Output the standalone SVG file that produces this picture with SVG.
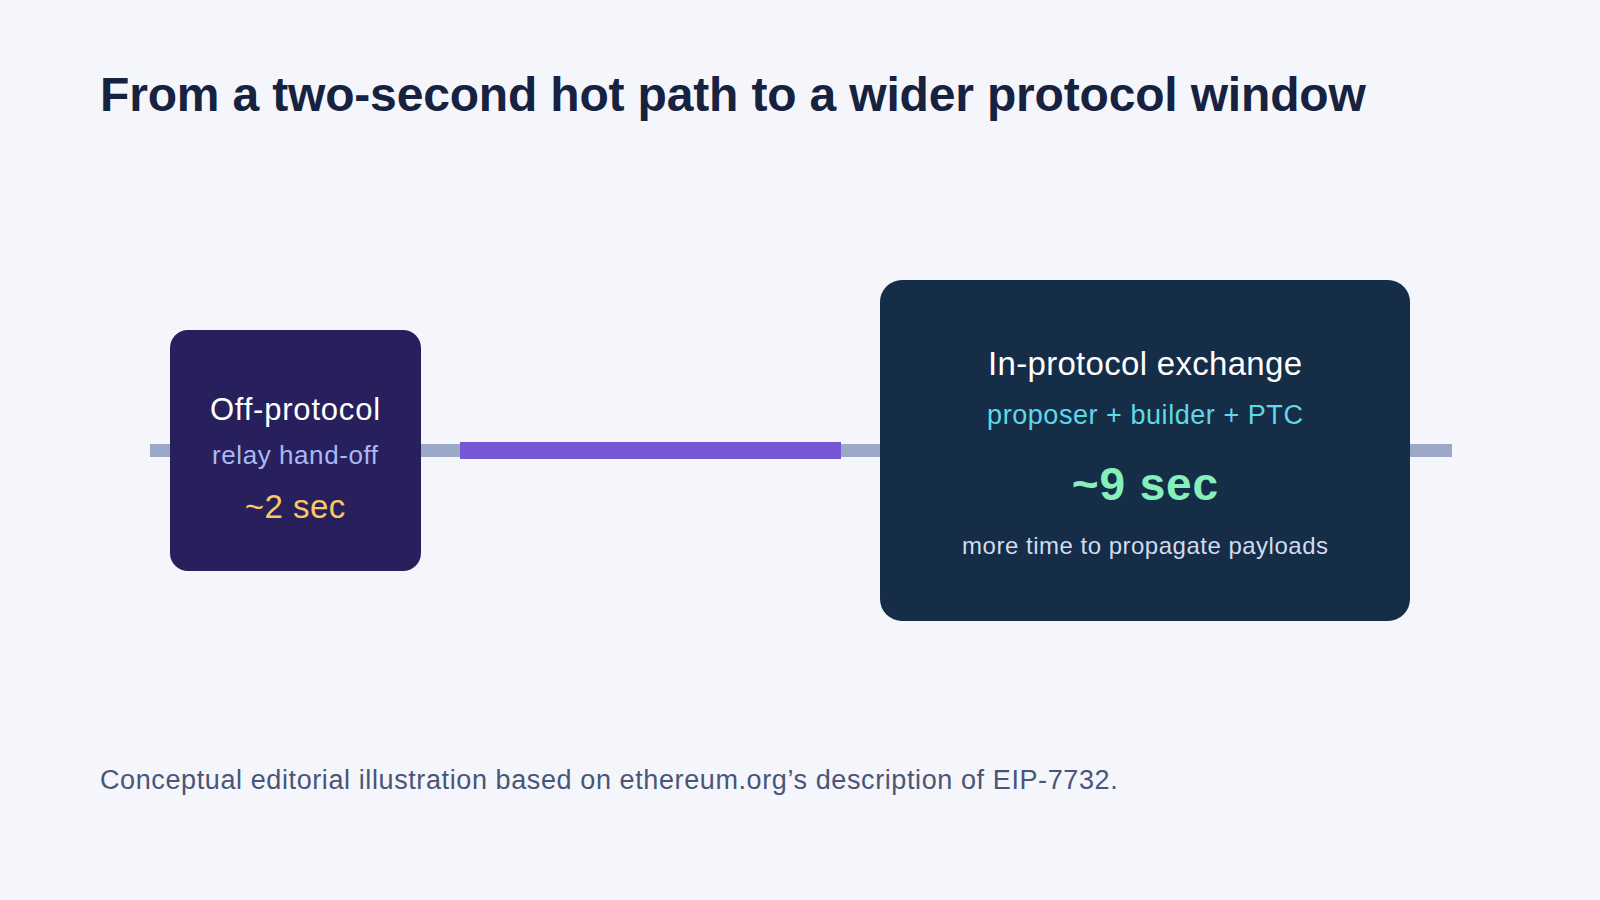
<svg xmlns="http://www.w3.org/2000/svg" width="1600" height="900" viewBox="0 0 1600 900">
<style>
text{font-family:"Liberation Sans",Arial,sans-serif}
.title{font-size:48px;font-weight:bold;fill:#172140;letter-spacing:-0.17px}
.foot{font-size:27px;fill:#4a5578;letter-spacing:0.6px}
.c{text-anchor:middle}
</style>
<rect width="1600" height="900" fill="#f4f6fb"/>
<text class="title" x="100" y="111">From a two-second hot path to a wider protocol window</text>
<g id="connectors">
<rect x="150" y="444" width="1302" height="13" fill="#9ba9c6"/>
<rect x="460" y="442" width="381" height="17" fill="#7657d6"/>
</g>
<g id="off-protocol">
<rect x="170" y="330" width="251" height="241" rx="18" fill="#28205c"/>
<text class="c" x="295.4" y="420" font-size="31" letter-spacing="0.8" fill="#ffffff">Off-protocol</text>
<text class="c" x="295.3" y="464" font-size="26" letter-spacing="0.57" fill="#a9b8f5">relay hand-off</text>
<text class="c" x="295.3" y="518" font-size="33" letter-spacing="0.5" fill="#fcc865">~2 sec</text>
</g>
<g id="in-protocol">
<rect x="880" y="280" width="530" height="341" rx="22" fill="#152d46"/>
<text class="c" x="1145.2" y="375" font-size="33" letter-spacing="0.3" fill="#ffffff">In-protocol exchange</text>
<text class="c" x="1145.3" y="424" font-size="27" letter-spacing="0.55" fill="#5fd8e8">proposer + builder + PTC</text>
<text class="c" x="1145.4" y="500" font-size="46" font-weight="bold" letter-spacing="0.85" fill="#86efbb">~9 sec</text>
<text class="c" x="1145.3" y="554" font-size="24" letter-spacing="0.5" fill="#cfdcef">more time to propagate payloads</text>
</g>
<text class="foot" x="100" y="789">Conceptual editorial illustration based on ethereum.org’s description of EIP-7732.</text>
</svg>
